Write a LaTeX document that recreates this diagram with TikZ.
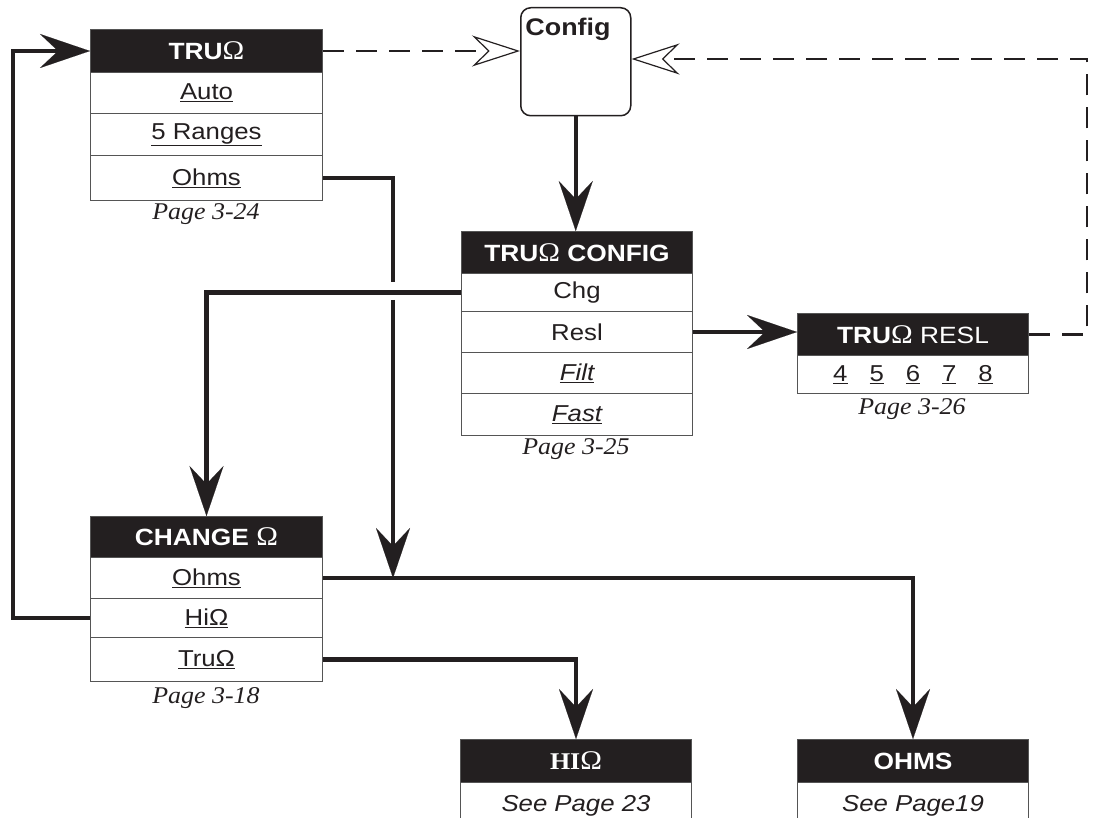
\documentclass[tikz,border=0pt]{standalone}
\usepackage{fontspec}
\setmainfont{Liberation Sans}[FakeStretch=1.12]
\newfontfamily\serfam{Liberation Serif}[FakeStretch=1.08]
\usetikzlibrary{arrows.meta}
\definecolor{ink}{HTML}{231F20}
\definecolor{rulegray}{HTML}{555555}
\newcommand\Om{{\serfam\mdseries\fontsize{27}{27}\selectfont Ω}}
\tikzset{
  mhead/.style={draw=rulegray, line width=1pt, fill=ink, text=white,
    font=\fontsize{23.5}{26}\selectfont\bfseries, anchor=north west,
    inner sep=0pt, minimum width=#1},
  mrow/.style={draw=rulegray, line width=1pt, fill=white, text=ink,
    font=\fontsize{23}{26}\selectfont, anchor=north west,
    inner sep=0pt, minimum width=#1},
  pglab/.style={text=ink, font=\fontsize{24}{26}\selectfont\serfam\itshape},
  wire/.style={draw=ink, line width=4.5pt},
  conn/.style={wire, -{Stealth[length=50pt,width=34pt,inset=18pt,line width=0.1pt]}},
  dconn/.style={draw=ink, line width=2.6pt, dash pattern=on 21pt off 12pt,
    -{Stealth[open,length=48pt,width=31pt,inset=16pt,line width=1.2pt]}},
}
\begin{document}
\begin{tikzpicture}[x=1pt,y=-1pt]
\useasboundingbox (0,0) rectangle (1095,818);

% TRU Omega menu
\node[mhead=232, minimum height=43] (t1h) at (90,29) {TRU\Om};
\node[mrow=232, minimum height=41] (t1a) at (90,72) {\underline{Auto}};
\node[mrow=232, minimum height=42] (t1b) at (90,113) {\underline{5 Ranges}};
\node[mrow=232, minimum height=45] (t1c) at (90,155) {\underline{Ohms}};
\node[pglab] (p1) at (206,214) {Page 3-24};

% Config box
\node[draw=ink, line width=1.5pt, rounded corners=10pt, fill=white,
  minimum width=110, minimum height=108, anchor=north west, inner sep=0pt] (cfg) at (520,7) {};
\node[text=ink, font=\fontsize{24}{26}\selectfont\bfseries] (cfgt) at (568,29) {Config};

% TRU Omega CONFIG
\node[mhead=231, minimum height=42] (c2h) at (461,231) {TRU\Om\ CONFIG};
\node[mrow=231, minimum height=38] (c2a) at (461,273) {Chg};
\node[mrow=231, minimum height=41] (c2b) at (461,311) {Resl};
\node[mrow=231, minimum height=41] (c2c) at (461,352) {\itshape\underline{Filt}};
\node[mrow=231, minimum height=42] (c2d) at (461,393) {\itshape\underline{Fast}};
\node[pglab] (p2) at (576,449) {Page 3-25};

% RESL
\node[mhead=231, minimum height=42, font=\fontsize{23.5}{26}\selectfont] (rh) at (797,313) {\textbf{TRU}\Om\ RESL};
\node[mrow=231, minimum height=38] (rd) at (797,355)
  {\underline{4}\hspace{22pt}\underline{5}\hspace{22pt}\underline{6}\hspace{22pt}\underline{7}\hspace{22pt}\underline{8}};
\node[pglab] (p3) at (912,409) {Page 3-26};

% CHANGE Omega
\node[mhead=232, minimum height=41] (ch) at (90,516) {CHANGE \Om};
\node[mrow=232, minimum height=41] (ch1) at (90,557) {\underline{Ohms}};
\node[mrow=232, minimum height=39] (ch2) at (90,598) {\underline{HiΩ}};
\node[mrow=232, minimum height=44] (ch3) at (90,637) {\underline{TruΩ}};
\node[pglab] (p4) at (206,698) {Page 3-18};

% bottom boxes
\node[mhead=231, minimum height=43, font=\fontsize{24}{26}\selectfont\serfam\bfseries] (hh) at (460,739) {HI\Om};
\node[mrow=231, minimum height=60] (hb) at (460,782) {\raisebox{18pt}{\itshape See Page 23}};
\node[mhead=231, minimum height=43] (oh) at (797,739) {OHMS};
\node[mrow=231, minimum height=60] (ob) at (797,782) {\raisebox{18pt}{\itshape See Page19}};

% coordinates
\coordinate (lp) at (13,300);
\coordinate (rx) at (1087,59);
\coordinate (gt) at (393,282);
\coordinate (gb) at (393,300);

% connectors
\draw[conn] (ch2.west) -| (lp) |- (t1h.west);
\draw[dconn] (t1h.east) -- (t1h.east -| cfg.west);
\draw[dconn] (rh.east) -| (rx) -- (rx -| cfg.east);
\draw[conn] (cfg.south) -- (cfg.south |- c2h.north);
\draw[wire] (t1c.east) -| (gt);
\draw[conn] (gb) -- (gb |- ch1.east);
\draw[conn] (c2a.west) -| (ch.north);
\draw[conn] (c2b.east) -- (c2b.east -| rh.west);
\draw[conn] (ch1.east) -| (oh.north);
\draw[conn] (ch3.east) -| (hh.north);
\end{tikzpicture}
\end{document}
